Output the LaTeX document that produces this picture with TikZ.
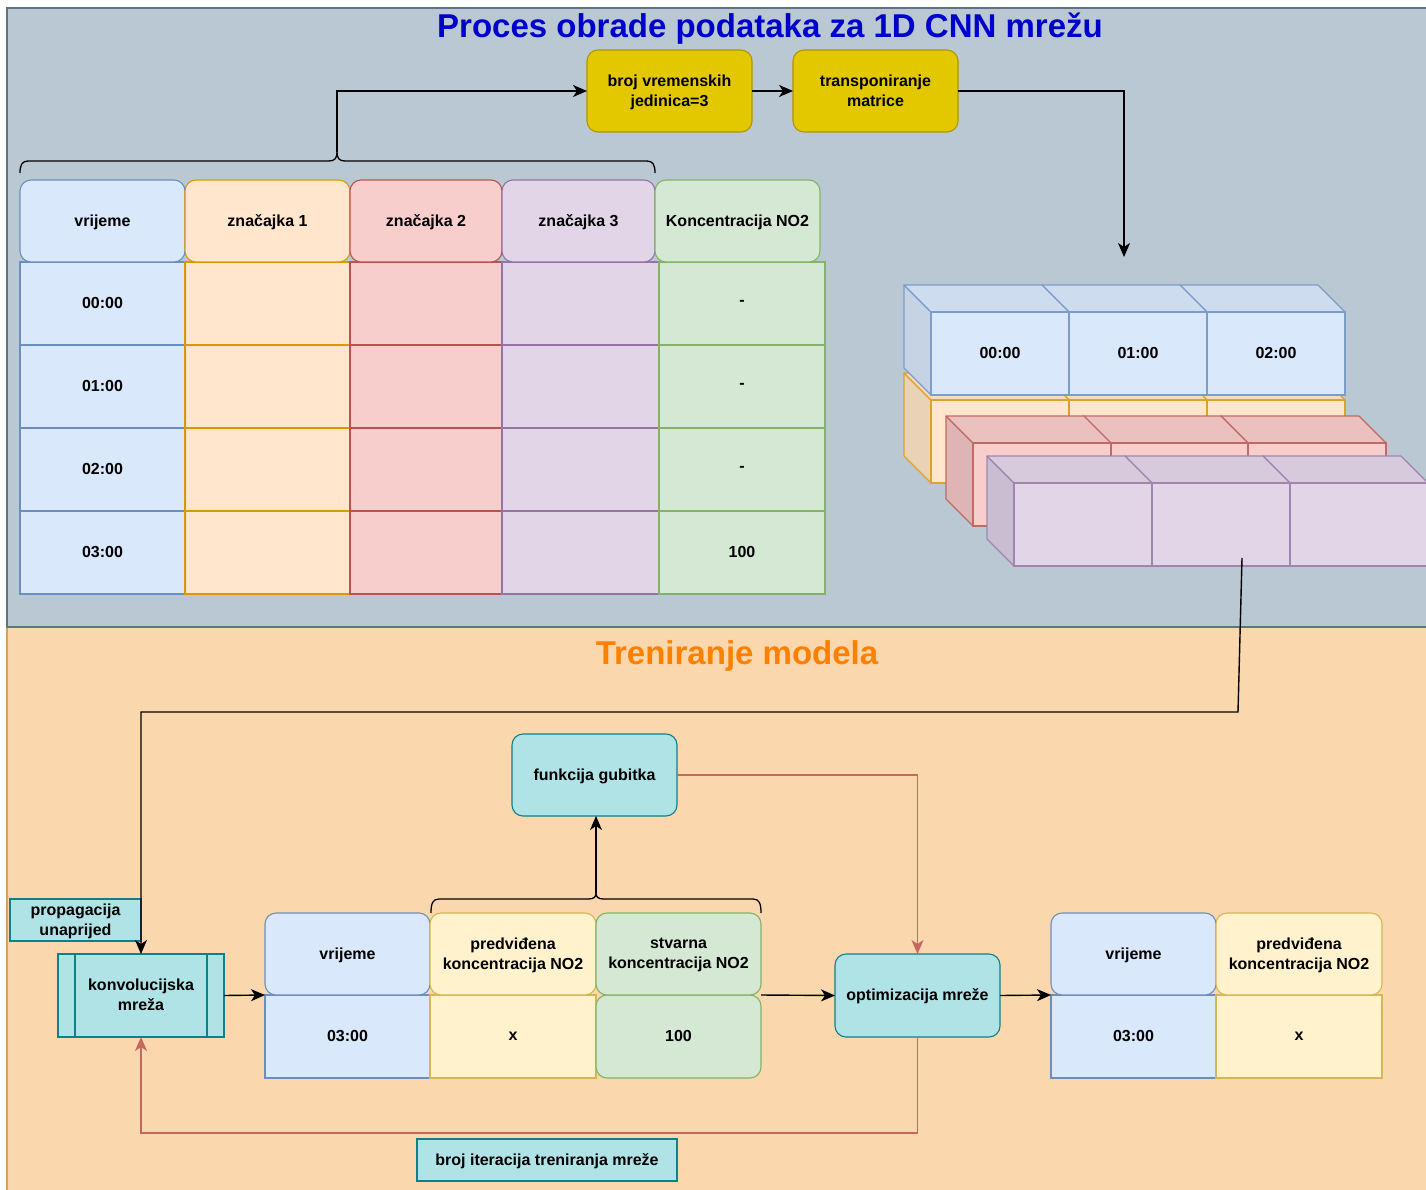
\documentclass[tikz,border=0pt]{standalone}
\usepackage{fontspec}
\setmainfont{Liberation Sans}
\usetikzlibrary{arrows.meta}
\definecolor{panelgray}{HTML}{BAC8D3}
\definecolor{panelgrayl}{HTML}{5E7383}
\definecolor{panelor}{HTML}{FAD7AC}
\definecolor{panelorl}{HTML}{D6A05F}
\definecolor{titleblue}{HTML}{0000CC}
\definecolor{titleor}{HTML}{FF8000}
\definecolor{bluef}{HTML}{DAE8FC}\definecolor{bluel}{HTML}{6C8EBF}
\definecolor{orf}{HTML}{FFE6CC}\definecolor{orl}{HTML}{D79B00}
\definecolor{redf}{HTML}{F8CECC}\definecolor{redl}{HTML}{B85450}
\definecolor{purf}{HTML}{E1D5E7}\definecolor{purl}{HTML}{9673A6}
\definecolor{grnf}{HTML}{D5E8D4}\definecolor{grnl}{HTML}{82B366}
\definecolor{yelf}{HTML}{FFF2CC}\definecolor{yell}{HTML}{D6B656}
\definecolor{tealf}{HTML}{B0E3E6}\definecolor{teall}{HTML}{0E8088}
\definecolor{goldf}{HTML}{E3C800}\definecolor{goldl}{HTML}{B09500}
\definecolor{redline}{HTML}{C8675F}
% cube colours
\definecolor{cbfront}{HTML}{DAE8FC}\definecolor{cbtop}{HTML}{CDDCEF}\definecolor{cbside}{HTML}{C6D3E4}\definecolor{cbline}{HTML}{7E9CC8}
\definecolor{cofront}{HTML}{FFE6CC}\definecolor{cotop}{HTML}{F5DCC0}\definecolor{coside}{HTML}{E9D2B6}\definecolor{coline}{HTML}{DDA22A}
\definecolor{crfront}{HTML}{F8CECC}\definecolor{crtop}{HTML}{EBC1BF}\definecolor{crside}{HTML}{DEB5B4}\definecolor{crline}{HTML}{C06A66}
\definecolor{cpfront}{HTML}{E1D5E7}\definecolor{cptop}{HTML}{D6CADC}\definecolor{cpside}{HTML}{C9BDD1}\definecolor{cpline}{HTML}{A085B0}
\tikzset{
  txt/.style={font=\fontsize{16}{20}\selectfont\bfseries, align=center, text=black, inner sep=2pt, outer sep=0pt, text depth=1pt},
  wh/.style 2 args={minimum width=#1pt, minimum height=#2pt},
  cellbox/.style={txt, anchor=north west, line width=1.1pt},
  hdrbox/.style={cellbox, rounded corners=11pt},
  tealbox/.style={cellbox, fill=tealf, draw=teall},
  goldbox/.style={hdrbox, fill=goldf, draw=goldl},
  conn/.style={line width=1.4pt, draw=black, -{Stealth[length=14pt,width=12pt,inset=4pt]}},
  redconn/.style={conn, draw=redline},
  bracestyle/.style={line width=1.3pt, draw=black},
  bigtitle/.style={font=\fontsize{33}{36}\selectfont\bfseries, inner sep=0pt}
}
\newcommand\mycube[5]{%
  \filldraw[fill=#4side, draw=#4line, line width=1.1pt, line join=round] (#2,#3) -- ({#2-27},{#3-27}) -- ({#2-27},{#3+83-27}) -- (#2,{#3+83}) -- cycle;
  \filldraw[fill=#4top, draw=#4line, line width=1.1pt, line join=round] (#2,#3) -- ({#2-27},{#3-27}) -- ({#2+138-27},{#3-27}) -- ({#2+138},#3) -- cycle;
  \node[cellbox, fill=#4front, draw=#4line, wh={138}{83}] (#1) at (#2,#3) {#5};
}
\begin{document}
\begin{tikzpicture}[x=1pt,y=-1pt]
\useasboundingbox (0,0) rectangle (1426,1190);
\clip (0,0) rectangle (1426,1190);
\fill[white] (0,0) rectangle (1426,1190);
% panels
\filldraw[fill=panelor, draw=panelorl, line width=1.5pt] (7,627) rectangle (1445,1205);
\filldraw[fill=panelgray, draw=panelgrayl, line width=1.6pt] (7,8) rectangle (1445,627);
\node[bigtitle, text=titleblue] (title) at (770,29) {Proces obrade podataka za 1D CNN mrežu};
\node[bigtitle, text=titleor] (train) at (737,656) {Treniranje modela};

% gold boxes
\node[goldbox, wh={165}{82}] (gold1) at (587,50) {broj vremenskih\\jedinica=3};
\node[goldbox, wh={165}{82}] (gold2) at (793,50) {transponiranje\\matrice};

% top table body
\foreach \yy/\tt/\vv [count=\i] in {262/00:00/-, 345/01:00/-, 428/02:00/-, 511/03:00/100}{
  \node[cellbox, fill=bluef, draw=bluel, wh={165}{83}] (tb\i a) at (20,\yy) {\tt};
  \node[cellbox, fill=orf, draw=orl, wh={165}{83}] (tb\i b) at (185,\yy) {};
  \node[cellbox, fill=redf, draw=redl, wh={152}{83}] (tb\i c) at (350,\yy) {};
  \node[cellbox, fill=purf, draw=purl, wh={157}{83}] (tb\i d) at (502,\yy) {};
  \node[cellbox, fill=grnf, draw=grnl, wh={166}{83}] (tb\i e) at (659,\yy) {\vv};
}
% top table headers
\node[hdrbox, fill=bluef, draw=bluel, wh={165}{82}] (th1) at (20,180) {vrijeme};
\node[hdrbox, fill=orf, draw=orl, wh={165}{82}] (th2) at (185,180) {značajka 1};
\node[hdrbox, fill=redf, draw=redl, wh={152}{82}] (th3) at (350,180) {značajka 2};
\node[hdrbox, fill=purf, draw=purl, wh={153}{82}] (th4) at (502,180) {značajka 3};
\node[hdrbox, fill=grnf, draw=grnl, wh={165}{82}] (th5) at (655,180) {Koncentracija NO2};

% brace over top table
\coordinate (b1tip) at (337,152);
\draw[bracestyle] (20,173) .. controls (20,165) and (22,161) .. (28,161) -- (329,161)
  .. controls (335,161) and (337,158) .. (b1tip)
  .. controls (337,158) and (339,161) .. (345,161) -- (647,161)
  .. controls (653,161) and (655,165) .. (655,173);
\draw[conn] (b1tip) |- (gold1.west);
\draw[conn] (gold1) -- (gold2);
\coordinate (cubein) at (1124,257);
\draw[conn] (gold2.east) -| (cubein);

% cubes
\mycube{co3}{1207}{400}{co}{}
\mycube{co2}{1069}{400}{co}{}
\mycube{co1}{931}{400}{co}{}
\mycube{cb3}{1207}{312}{cb}{02:00}
\mycube{cb2}{1069}{312}{cb}{01:00}
\mycube{cb1}{931}{312}{cb}{00:00}
\mycube{cr3}{1248}{443}{cr}{}
\mycube{cr2}{1110}{443}{cr}{}
\mycube{cr1}{973}{443}{cr}{}
\mycube{cp3}{1290}{483}{cp}{}
\mycube{cp2}{1152}{483}{cp}{}
\mycube{cp1}{1014}{483}{cp}{}

% bottom section
\node[tealbox, wh={131}{42}] (prop) at (10,899) {propagacija\\unaprijed};
\node[tealbox, wh={166}{83}] (konv) at (58,954) {konvolucijska\\mreža};
\draw[teall, line width=1.1pt] ([xshift=17pt]konv.north west) -- ([xshift=17pt]konv.south west);
\draw[teall, line width=1.1pt] ([xshift=-17pt]konv.north east) -- ([xshift=-17pt]konv.south east);

\node[cellbox, fill=bluef, draw=bluel, wh={165}{83}] (t2b1) at (265,995) {03:00};
\node[cellbox, fill=yelf, draw=yell, wh={166}{83}] (t2b2) at (430,995) {x};
\node[hdrbox, fill=grnf, draw=grnl, wh={165}{83}] (t2b3) at (596,995) {100};
\node[hdrbox, fill=bluef, draw=bluel, wh={165}{82}] (t2h1) at (265,913) {vrijeme};
\node[hdrbox, fill=yelf, draw=yell, wh={166}{82}] (t2h2) at (430,913) {predviđena\\koncentracija NO2};
\node[hdrbox, fill=grnf, draw=grnl, wh={165}{82}] (t2h3) at (596,913) {stvarna\\koncentracija NO2};

\node[hdrbox, fill=tealf, draw=teall, wh={165}{82}] (funk) at (512,734) {funkcija gubitka};
\node[hdrbox, fill=tealf, draw=teall, wh={165}{83}] (opt) at (835,954) {optimizacija mreže};

\node[cellbox, fill=bluef, draw=bluel, wh={165}{83}] (t3b1) at (1051,995) {03:00};
\node[cellbox, fill=yelf, draw=yell, wh={166}{83}] (t3b2) at (1216,995) {x};
\node[hdrbox, fill=bluef, draw=bluel, wh={165}{82}] (t3h1) at (1051,913) {vrijeme};
\node[hdrbox, fill=yelf, draw=yell, wh={166}{82}] (t3h2) at (1216,913) {predviđena\\koncentracija NO2};

\node[tealbox, wh={260}{42}] (iter) at (417,1139) {broj iteracija treniranja mreže};

% brace over table 2
\coordinate (b2tip) at (596,893);
\draw[bracestyle] (431,913) .. controls (431,903) and (433,899) .. (439,899) -- (588,899)
  .. controls (594,899) and (596,897) .. (b2tip)
  .. controls (596,897) and (598,899) .. (604,899) -- (753,899)
  .. controls (759,899) and (761,903) .. (761,913);

% connectors
\coordinate (cs) at (1242,558);
\coordinate (cb) at (1238,712);
\draw[conn] (cs) -- (cb) -| (konv.north);
\draw[conn] (konv.east) -- (t2b1.north west);
\draw[conn] (b2tip) -- (b2tip |- funk.south);
\draw[redconn] (funk.east) -| (opt.north);
\draw[conn] (t2h3.south east) -- (opt.west);
\draw[conn] (opt.east) -- (t3b1.north west);
\draw[redconn] (opt.south) -- ++(0,96) -| (konv.south);
\end{tikzpicture}
\end{document}
